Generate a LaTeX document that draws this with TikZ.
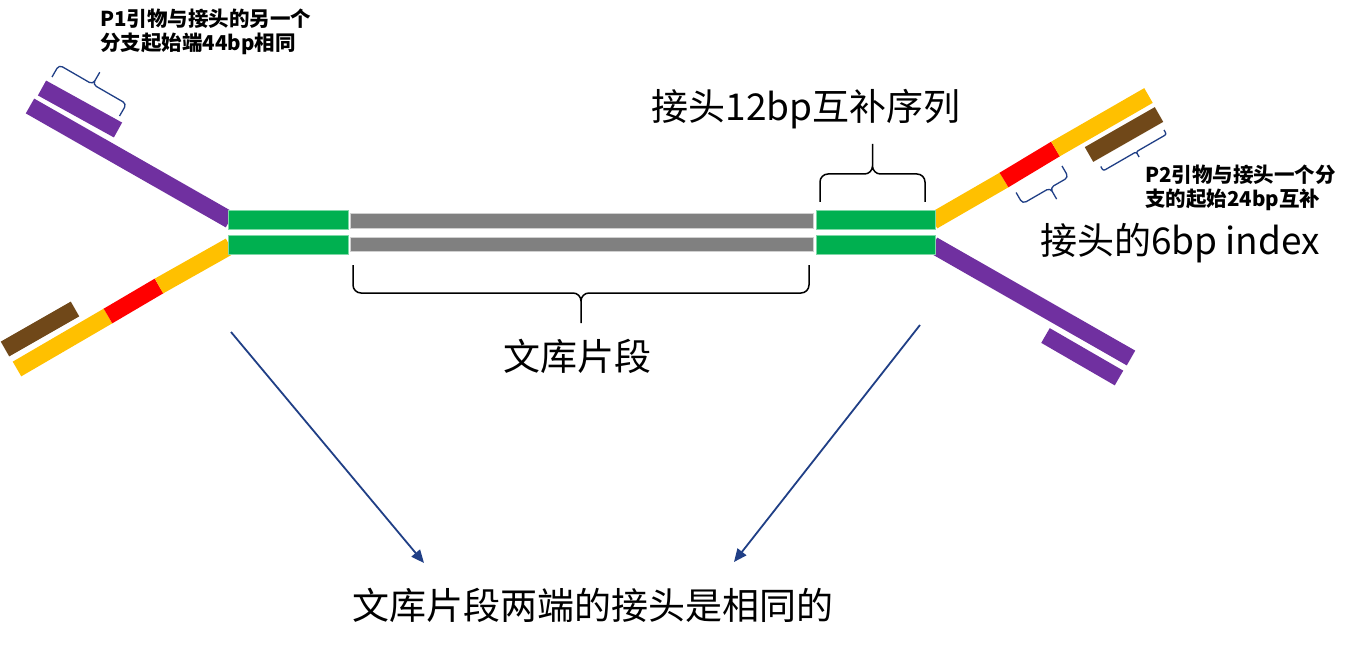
\documentclass[tikz,border=0pt]{standalone}
\usepackage{fontspec}
\newfontfamily\cjk{Noto Sans CJK SC}
\usetikzlibrary{arrows.meta}
\definecolor{cpurple}{HTML}{7030A0}
\definecolor{cgreen}{HTML}{00B050}
\definecolor{cgreenl}{HTML}{7FD8A7}
\definecolor{cgray}{HTML}{808080}
\definecolor{cgrayl}{HTML}{D0D0D0}
\definecolor{cyellow}{HTML}{FFC000}
\definecolor{cred}{HTML}{FF0000}
\definecolor{cbrown}{HTML}{704819}
\definecolor{cblue}{HTML}{203F86}
\newcommand\mybrace[7]{%
  \draw[#7, shift={(#1)}, rotate=#2]
    (0,0) -- (0,-#4) -- ({#6*#3},-#4) -- ({#6*#3},{-#4-#5})
    (#3,0) -- (#3,-#4) -- ({#6*#3},-#4) -- ({#6*#3},{-#4-#5});}
\begin{document}
\begin{tikzpicture}[x=1pt,y=-1pt,
  strand/.style={line width=17pt},
  greenbar/.style={fill=cgreen,draw=cgreenl,line width=0.8pt},
  graybar/.style={fill=cgray,draw=cgrayl,line width=0.8pt},
  bigbrace/.style={black,line width=1.5pt,rounded corners=8pt},
  smallbrace/.style={cblue,line width=1.3pt,rounded corners=4pt},
  tinybrace/.style={cblue,line width=1.3pt,rounded corners=2pt},
  bigtext/.style={font=\cjk\fontsize{37}{44}\selectfont,inner sep=0pt},
  smalltext/.style={font=\cjk\bfseries\fontsize{20.5}{23.5}\selectfont,inner sep=0pt,align=left,anchor=north west},
  arr/.style={cblue,line width=1.8pt,-{Triangle[length=13pt,width=11pt]}}]
\useasboundingbox (0,0) rectangle (1361,650);
\fill[white] (0,0) rectangle (1361,650);

% left strands
\draw[strand,cpurple] (30,106) -- (230,220);
\draw[strand,cpurple] (42,88) -- (118,130);
\draw[strand,cyellow] (17,369) -- (108,316);
\draw[strand,cred] (108,316) -- (159,286);
\draw[strand,cyellow] (159,286) -- (230,246);
\draw[strand,cbrown] (5,349) -- (75,309);

% right strands
\draw[strand,cyellow] (933,221) -- (1004,180);
\draw[strand,cred] (1004,180) -- (1055.5,149);
\draw[strand,cyellow] (1055.5,149) -- (1148.5,95.5);
\draw[strand,cbrown] (1089,154.5) -- (1159,114.5);
\draw[strand,cpurple] (933,245) -- (1131,358);
\draw[strand,cpurple] (1045.5,335.5) -- (1119,378);

% duplex bars
\draw[greenbar] (228,210) rectangle (348,229);
\draw[greenbar] (228,235) rectangle (348,254);
\draw[graybar] (350,213) rectangle (813,228);
\draw[graybar] (350,237) rectangle (813,251);
\draw[greenbar] (816,210) rectangle (935,229);
\draw[greenbar] (816,235) rectangle (935,254);

% braces
\mybrace{52,77}{-30}{78}{14}{14}{0.5}{smallbrace}
\mybrace{820,202}{0}{105}{28}{30}{0.5}{bigbrace}
\mybrace{809,265}{180}{456}{28}{30}{0.5}{bigbrace}
\mybrace{1062,166}{210}{53}{13}{13}{0.4}{smallbrace}
\mybrace{1164,130}{210}{73}{5}{6}{0.48}{tinybrace}

% texts
\node[smalltext] (p1) at (100,9) {P1引物与接头的另一个\\分支起始端44bp相同};
\node[smalltext] (p2) at (1145,165) {P2引物与接头一个分\\支的起始24bp互补};
\node[bigtext] (t12) at (806,109) {接头12bp互补序列};
\node[bigtext] (tidx) at (1180,243) {接头的6bp index};
\node[bigtext] (tlib) at (577,356) {文库片段};
\node[bigtext] (tbot) at (593,605) {文库片段两端的接头是相同的};

% arrows
\coordinate (a1s) at (231,332);
\coordinate (a1e) at (424,563);
\coordinate (a2s) at (920,325);
\coordinate (a2e) at (734,562);
\draw[arr] (a1s) -- (a1e);
\draw[arr] (a2s) -- (a2e);
\end{tikzpicture}
\end{document}
